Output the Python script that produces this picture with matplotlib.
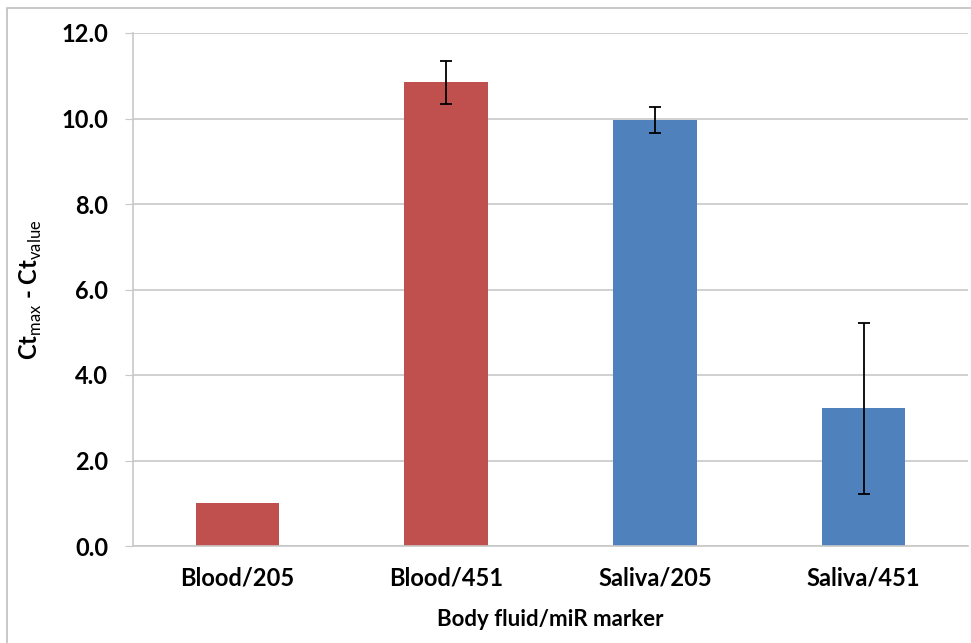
import numpy as np
import matplotlib.pyplot as plt
from matplotlib.patches import Rectangle

# data
categories = ['Blood/205', 'Blood/451', 'Saliva/205', 'Saliva/451']
values = [1.0, 10.85, 9.97, 3.22]
errors = [0.0, 0.5, 0.3, 2.0]
colors = ['#C0504D', '#C0504D', '#4F81BD', '#4F81BD']
yticks = [0, 2, 4, 6, 8, 10, 12]

plt.rcParams['font.family'] = ['Lato', 'DejaVu Sans']
plt.rcParams['mathtext.fontset'] = 'custom'
plt.rcParams['mathtext.rm'] = 'Lato'

fig = plt.figure(figsize=(9.71, 6.43), dpi=100)
ax = fig.add_axes([133 / 971, 1 - 546 / 643, (968 - 133) / 971, (546 - 33) / 643])

# light outer frame like the office chart area
fig.patches.append(Rectangle((7 / 971, -0.1), 1.2, 1 - 8 / 643 + 0.1,
                             transform=fig.transFigure, fill=False,
                             edgecolor='#BFBFBF', linewidth=1.2))

x = np.arange(len(categories))
ax.bar(x, values, width=0.4, color=colors, zorder=2)
err = [e if e > 0 else np.nan for e in errors]
ax.errorbar(x, values, yerr=err, fmt='none', ecolor='black', elinewidth=1.3,
            capsize=4, capthick=1.3, zorder=3)

ax.set_xlim(-0.5, len(categories) - 0.5)
ax.set_ylim(0, 12)
ax.set_yticks(yticks)
ax.set_yticklabels(['%.1f' % t for t in yticks], fontsize=17, fontweight='bold')
ax.set_xticks(x)
ax.set_xticklabels(categories, fontsize=17, fontweight='bold')
ax.yaxis.grid(True, color='#C8C8C8', linewidth=1.2, zorder=0)
ax.set_axisbelow(True)

for s in ['top', 'right']:
    ax.spines[s].set_visible(False)
ax.spines['left'].set_color('#C8C8C8')
ax.spines['bottom'].set_color('#C8C8C8')
ax.spines['left'].set_linewidth(1.2)
ax.spines['bottom'].set_linewidth(1.2)
ax.tick_params(axis='y', length=6, color='#C8C8C8', direction='out', pad=12)
ax.tick_params(axis='x', length=0, pad=15)

ax.set_xlabel('Body fluid/miR marker', fontsize=16, fontweight='bold', labelpad=14)
ax.set_ylabel(r'Ct$_{\mathrm{max}}$ - Ct$_{\mathrm{value}}$', fontsize=17,
              fontweight='bold', labelpad=12)

fig.savefig('out.png', dpi=100)
